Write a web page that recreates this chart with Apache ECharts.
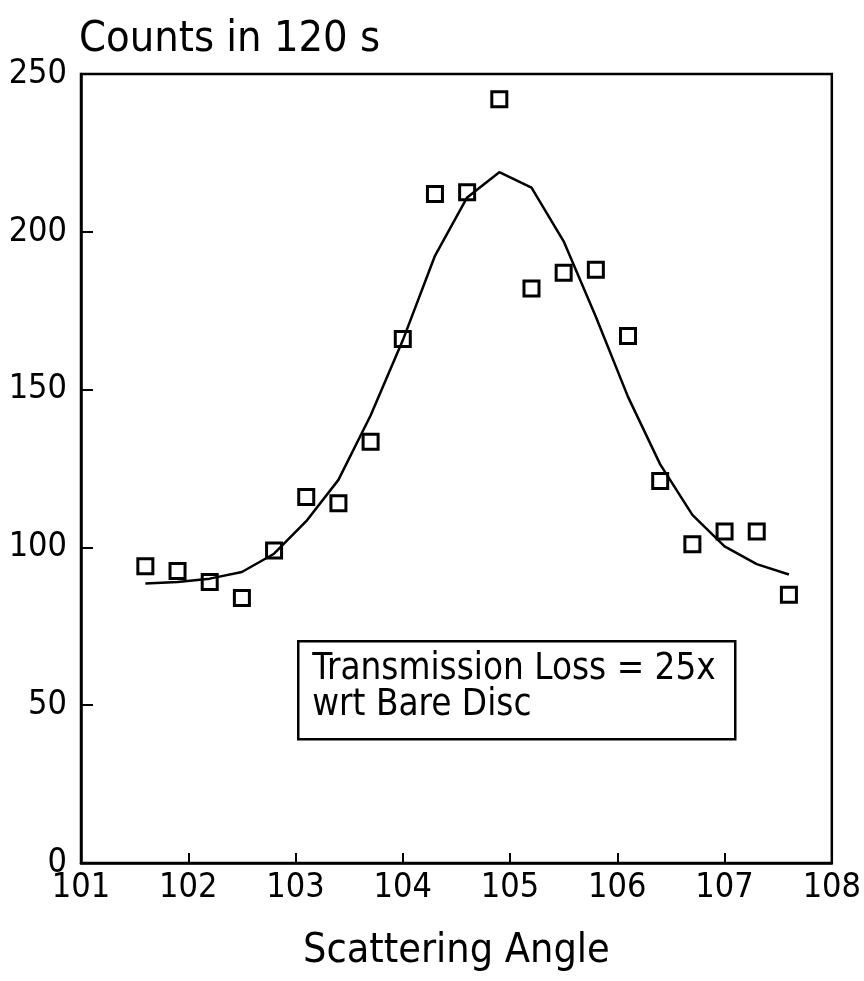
<!DOCTYPE html>
<html>
<head>
<meta charset="utf-8">
<script src="https://cdn.jsdelivr.net/npm/echarts@6/dist/echarts.min.js"></script>
<style>
html,body{margin:0;padding:0;background:#fff;}
#chart{width:864px;height:981px;}
</style>
</head>
<body>
<div id="chart"></div>
<script>
// Measured points (scattering angle, counts in 120 s)
var angles = [101.6, 101.9, 102.2, 102.5, 102.8, 103.1, 103.4, 103.7, 104.0, 104.3, 104.6, 104.9, 105.2, 105.5, 105.8, 106.1, 106.4, 106.7, 107.0, 107.3, 107.6];
var counts = [94, 92.5, 89, 84, 99, 116, 114, 133.5, 166, 212, 212.5, 242, 182, 187, 188, 167, 121, 101, 105, 105, 85];
// Fitted curve
var fitAngles = [101.6, 101.9, 102.2, 102.5, 102.8, 103.1, 103.4, 103.7, 104.0, 104.3, 104.6, 104.9, 105.2, 105.5, 105.8, 106.1, 106.4, 106.7, 107.0, 107.3, 107.6];
var fitCounts = [88.6, 89.0, 90.1, 92.2, 98.0, 108.3, 121.4, 141.8, 165.6, 192.4, 210.9, 218.9, 214.0, 197.0, 173.1, 147.7, 126.3, 110.3, 100.3, 94.7, 91.4];
// Axis ticks
var xTicks = [101, 102, 103, 104, 105, 106, 107, 108];
var yTicks = [0, 50, 100, 150, 200, 250];
var yTitle = 'Counts in 120 s';
var xTitle = 'Scattering Angle';
var noteLines = ['Transmission Loss = 25x', 'wrt Bare Disc'];

var FONT = "'DejaVu Sans Condensed', 'Liberation Sans Narrow', sans-serif";
var chart = echarts.init(document.getElementById('chart'), null, {renderer: 'canvas'});

var pts = angles.map(function (a, i) { return [a, counts[i]]; });
var fit = fitAngles.map(function (a, i) { return [a, fitCounts[i]]; });

chart.setOption({
  backgroundColor: '#ffffff',
  animation: false,
  title: {
    text: yTitle,
    left: 74, top: 13,
    textStyle: {fontFamily: FONT, fontSize: 43, fontWeight: 'normal', color: '#000'}
  },
  grid: {
    left: 81, right: 32, top: 74, bottom: 118,
    show: true, borderColor: '#000', borderWidth: 2.5, backgroundColor: 'transparent'
  },
  xAxis: {
    type: 'value',
    min: xTicks[0], max: xTicks[xTicks.length - 1], interval: 1,
    name: xTitle, nameLocation: 'middle', nameGap: 68,
    nameTextStyle: {fontFamily: FONT, fontSize: 41, color: '#000'},
    axisLine: {show: true, onZero: false, lineStyle: {color: '#000', width: 2.5}},
    axisTick: {show: true, inside: true, length: 10, lineStyle: {color: '#000', width: 2}},
    axisLabel: {fontFamily: FONT, fontSize: 34, color: '#000', margin: 8},
    splitLine: {show: false}
  },
  yAxis: {
    type: 'value',
    min: yTicks[0], max: yTicks[yTicks.length - 1], interval: 50,
    axisLine: {show: true, lineStyle: {color: '#000', width: 2.5}},
    axisTick: {show: true, inside: true, length: 12, lineStyle: {color: '#000', width: 2}},
    axisLabel: {fontFamily: FONT, fontSize: 34, color: '#000', margin: 14},
    splitLine: {show: false}
  },
  graphic: [{
    type: 'group',
    left: 297, top: 640,
    children: [{
      type: 'rect',
      shape: {x: 0, y: 0, width: 437, height: 98},
      style: {fill: 'transparent', stroke: '#000', lineWidth: 2.5}
    }, {
      type: 'text',
      left: 14, top: 10,
      style: {
        text: noteLines.join('\n'),
        font: '36.5px ' + FONT,
        fill: '#000',
        lineHeight: 36
      }
    }]
  }],
  series: [{
    type: 'line',
    data: fit,
    showSymbol: false,
    smooth: false,
    lineStyle: {color: '#000', width: 2.5},
    z: 2
  }, {
    type: 'scatter',
    data: pts,
    symbol: 'rect',
    symbolSize: 15,
    itemStyle: {color: 'rgba(0,0,0,0)', borderColor: '#000', borderWidth: 3, opacity: 1},
    z: 3
  }]
});
</script>
</body>
</html>
